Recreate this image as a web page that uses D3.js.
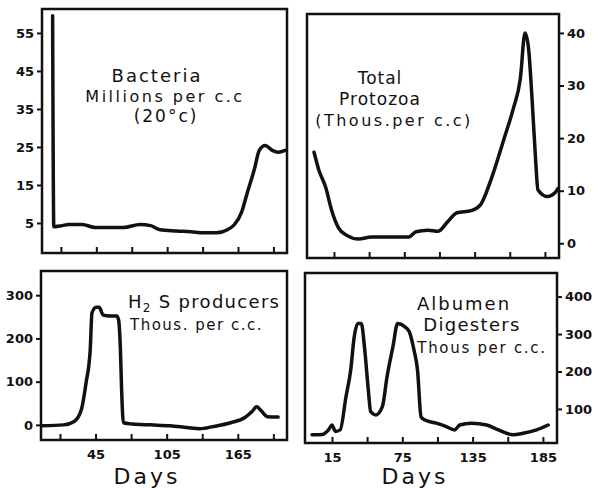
<!DOCTYPE html>
<html>
<head>
<meta charset="utf-8">
<script src="https://cdnjs.cloudflare.com/ajax/libs/d3/7.8.5/d3.min.js"></script>
<style>
  body { margin: 0; background: #fff; }
  text { font-family: "DejaVu Sans", sans-serif; fill: #111; }
  .tick text { font-weight: bold; font-size: 13px; }
  .tick line { stroke: #111; stroke-width: 2; }
</style>
</head>
<body>
<svg width="600" height="488"></svg>
<script>
// bacteria, millions per c.c (20°c)
const bacteriaDays = [8, 9, 14, 22, 33, 44, 53, 68, 82, 91, 99, 113, 125, 136, 147, 156, 162, 168, 173, 179, 183, 188, 194, 199, 205];
const bacteriaValues = [59.5, 4, 4.2, 4.6, 4.6, 3.8, 3.8, 3.8, 4.6, 4.3, 3.2, 2.9, 2.7, 2.4, 2.4, 3.2, 4.6, 7.8, 13.1, 19.3, 24.1, 25.4, 24.1, 23.6, 24.1];

// total protozoa, thousands per c.c
const protozoaDays = [-2, 2, 8, 13, 19, 26, 36, 47, 58, 70, 79, 85, 95, 104, 112, 120, 132, 140, 149, 160, 168, 174, 178, 181, 184, 187, 189, 197, 204, 206];
const protozoaValues = [17.3, 14, 10.6, 6.3, 2.9, 1.5, 0.8, 1.2, 1.2, 1.2, 1.2, 2.2, 2.5, 2.3, 4.1, 5.8, 6.2, 7.3, 12.1, 19.8, 25.6, 31.3, 40, 37.1, 27.5, 16, 10.2, 8.9, 9.7, 10.4];

// H2S producers, thousands per c.c
const h2sDays = [0, 18, 27, 33, 37, 40.5, 42, 45.5, 48, 51.5, 57, 63, 64.5, 66, 67, 68.5, 76, 91, 108, 122, 133, 144, 159, 171, 177, 181, 184, 190, 199];
const h2sValues = [-2, 0, 8, 35, 97, 173, 259, 272, 272, 254, 252, 252, 242, 173, 81, 5, 2, 0, -2, -6, -9, -4, 5, 17, 31, 42, 35, 19, 18];

// albumen digesters, thousands per c.c
const albumenDays = [-2, 7, 12, 15, 18, 22, 27, 31, 34, 37, 40, 43, 46, 48, 52.5, 58, 62, 67, 71, 77, 81, 85, 88, 91, 94, 104, 112.5, 119.6, 124, 134, 147, 157, 169.5, 178, 189.6, 199.5];
const albumenValues = [31, 32, 44, 57, 40, 44, 133, 204, 293, 328, 328, 257, 151, 93, 84, 106, 186, 266, 328, 320, 306, 257, 204, 79, 71, 62, 53, 44, 57, 62, 57, 44, 31, 35, 44, 57];

// tick values and labels
const dayTicks = [15, 45, 75, 105, 135, 165, 195];
const leftDayLabels = ["", "45", "", "105", "", "165", ""];
const rightDayLabels = ["15", "", "75", "", "135", "", "185"];
const bacteriaTicks = [5, 15, 25, 35, 45, 55];
const protozoaTicks = [0, 10, 20, 30, 40];
const h2sTicks = [0, 100, 200, 300];
const albumenTicks = [100, 200, 300, 400];

const svg = d3.select('svg');

const panels = [
  {days: bacteriaDays, values: bacteriaValues, box: [42, 9, 287, 253], xDom: [-1, 206.5], yDom: [-2.9, 61.3],
   yTicks: bacteriaTicks, side: 'left', xLabels: null},
  {days: protozoaDays, values: protozoaValues, box: [307, 14, 559, 258], xDom: [-8, 207], yDom: [-2.8, 43.6],
   yTicks: protozoaTicks, side: 'right', xLabels: null},
  {days: h2sDays, values: h2sValues, box: [41, 271, 287, 440], xDom: [-1, 206.5], yDom: [-35, 356],
   yTicks: h2sTicks, side: 'left', xLabels: leftDayLabels},
  {days: albumenDays, values: albumenValues, box: [305, 273, 557, 443], xDom: [-8, 207], yDom: [9, 463],
   yTicks: albumenTicks, side: 'right', xLabels: rightDayLabels}
];

panels.forEach(p => {
  const [x0, y0, x1, y1] = p.box;
  const x = d3.scaleLinear().domain(p.xDom).range([x0, x1]);
  const y = d3.scaleLinear().domain(p.yDom).range([y1, y0]);

  const g = svg.append('g');

  // bottom ticks point inward
  const xAxis = d3.axisBottom(x)
    .tickValues(dayTicks)
    .tickSizeInner(-6)
    .tickSizeOuter(0)
    .tickPadding(10)
    .tickFormat((d, i) => p.xLabels ? p.xLabels[i] : '');
  g.append('g')
    .attr('transform', `translate(0,${y1})`)
    .call(xAxis)
    .call(a => a.select('.domain').remove());

  const yAxis = (p.side === 'left' ? d3.axisLeft(y) : d3.axisRight(y))
    .tickValues(p.yTicks)
    .tickSizeInner(5)
    .tickSizeOuter(0)
    .tickPadding(3);
  g.append('g')
    .attr('transform', `translate(${p.side === 'left' ? x0 : x1},0)`)
    .call(yAxis)
    .call(a => a.select('.domain').remove());

  g.append('rect')
    .attr('x', x0).attr('y', y0)
    .attr('width', x1 - x0).attr('height', y1 - y0)
    .attr('fill', 'none')
    .attr('stroke', '#111')
    .attr('stroke-width', 2.5);

  const line = d3.line()
    .x((d, i) => x(p.days[i]))
    .y(d => y(d))
    .curve(d3.curveMonotoneX);

  g.append('path')
    .datum(p.values)
    .attr('d', line)
    .attr('fill', 'none')
    .attr('stroke', '#111')
    .attr('stroke-width', 3.5)
    .attr('stroke-linejoin', 'round')
    .attr('stroke-linecap', 'round');
});

// panel titles (hand lettering is wide, so spread the letters)
function label(txt, x, y, anchor, size, spacing) {
  return svg.append('text')
    .attr('x', x).attr('y', y)
    .attr('text-anchor', anchor)
    .style('font-size', size + 'px')
    .style('letter-spacing', (spacing || 0) + 'px')
    .text(txt);
}

label('Bacteria', 157, 82, 'middle', 18, 2);
label('Millions per c.c', 165, 102, 'middle', 16, 2.5);
label('(20°c)', 166, 122, 'middle', 17, 2);

label('Total', 380, 84, 'middle', 17, 1);
label('Protozoa', 380, 105, 'middle', 17, 1);
label('(Thous.per c.c)', 394, 126, 'middle', 16, 2.5);

const h2s = svg.append('text').attr('x', 128).attr('y', 308)
  .style('font-size', '18px').style('letter-spacing', '1.3px');
h2s.append('tspan').text('H');
h2s.append('tspan').attr('dy', 4).style('font-size', '12px').text('2');
h2s.append('tspan').attr('dy', -4).text(' S producers');
label('Thous. per c.c.', 130, 330, 'start', 15, 1.5);

label('Albumen', 464, 310, 'middle', 18, 2);
label('Digesters', 472, 331, 'middle', 18, 1.3);
label('Thous per c.c.', 482, 353, 'middle', 15, 1.7);

label('Days', 147, 484, 'middle', 22, 3);
label('Days', 415, 484, 'middle', 22, 3);
</script>
</body>
</html>
